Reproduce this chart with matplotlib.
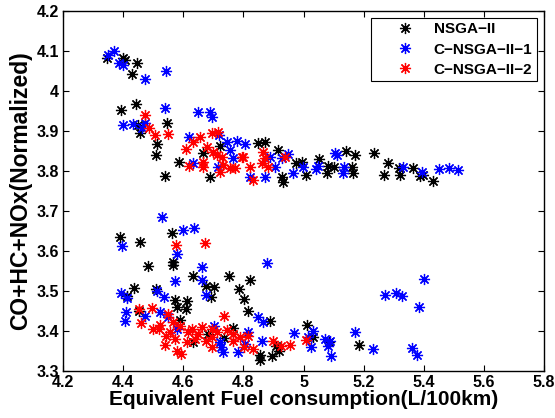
import numpy as np
import matplotlib
matplotlib.use('Agg')
import matplotlib.pyplot as plt
from matplotlib.ticker import FormatStrFormatter, MultipleLocator

plt.rcParams['font.family'] = ['Liberation Sans', 'DejaVu Sans']
plt.rcParams['font.weight'] = 'bold'

# NSGA-II
nsga_x = [4.347, 4.399, 4.406, 4.445, 4.428, 4.392, 4.442, 4.451, 4.545, 4.456,
          4.512, 4.509, 4.539, 4.587, 4.665, 4.722, 4.689, 4.850, 4.872, 4.916,
          4.928, 4.931, 4.975, 4.994, 5.008, 5.053, 5.079, 5.083, 5.103, 5.142,
          5.171, 5.160, 5.164, 5.236, 5.282, 5.268, 5.321, 5.319, 5.365, 5.397,
          5.388, 5.432,
          4.388, 4.456, 4.561, 4.484, 4.565, 4.567, 4.631, 4.752, 4.823, 4.436,
          4.412, 4.509, 4.677, 4.702, 4.691, 4.786, 4.801, 4.572, 4.611, 4.578,
          4.609, 4.815, 4.889, 4.453, 4.589, 4.767, 5.011, 5.031, 5.084, 5.186,
          4.909, 4.920, 4.854, 4.854, 4.896, 4.633, 4.735, 4.683]
nsga_y = [4.082, 4.082, 4.077, 4.069, 4.042, 3.953, 3.968, 3.915, 3.919, 3.894,
          3.868, 3.840, 3.788, 3.823, 3.846, 3.863, 3.786, 3.869, 3.873, 3.853,
          3.786, 3.773, 3.819, 3.823, 3.790, 3.829, 3.794, 3.812, 3.809, 3.851,
          3.840, 3.809, 3.794, 3.844, 3.819, 3.790, 3.790, 3.807, 3.807, 3.790,
          3.787, 3.776,
          3.636, 3.623, 3.644, 3.562, 3.573, 3.566, 3.537, 3.537, 3.528, 3.507,
          3.488, 3.505, 3.513, 3.511, 3.484, 3.505, 3.480, 3.477, 3.476, 3.461,
          3.455, 3.451, 3.424, 3.451, 3.428, 3.408, 3.416, 3.384, 3.372, 3.366,
          3.363, 3.351, 3.341, 3.328, 3.338, 3.372, 3.383, 3.392]

# C-NSGA-II-1
c1_x = [4.351, 4.370, 4.387, 4.401, 4.474, 4.543, 4.538, 4.650, 4.689, 4.695,
        4.401, 4.434, 4.473, 4.462, 4.619, 4.720, 4.634, 4.745, 4.778, 4.805,
        4.756, 4.767, 4.717, 4.822, 4.872, 4.889, 4.905, 4.928, 4.950, 4.964,
        4.999, 5.042, 5.049, 5.105, 5.113, 5.135, 5.133, 5.330, 5.393, 5.452,
        5.485, 5.513,
        4.528, 4.600, 4.636, 4.396, 4.578, 4.878, 4.661, 4.572, 4.664, 5.401,
        4.393, 4.412, 4.512, 4.536, 4.677, 5.272, 5.309, 5.327, 5.385, 4.410,
        4.407, 4.473, 4.523, 4.550, 4.580, 4.702, 4.849, 4.865, 4.815, 4.863,
        4.970, 5.033, 5.014, 5.025, 5.070, 5.081, 5.089, 5.092, 5.171, 5.232,
        5.360, 5.379, 4.727, 4.733, 4.782, 4.722, 4.804]
c1_y = [4.090, 4.101, 4.069, 4.065, 4.030, 4.051, 3.957, 3.947, 3.948, 3.936,
        3.915, 3.918, 3.919, 3.907, 3.886, 3.890, 3.821, 3.873, 3.876, 3.867,
        3.853, 3.832, 3.809, 3.786, 3.784, 3.836, 3.811, 3.832, 3.842, 3.794,
        3.811, 3.804, 3.812, 3.846, 3.840, 3.811, 3.794, 3.811, 3.798, 3.804,
        3.807, 3.802,
        3.686, 3.652, 3.657, 3.613, 3.592, 3.569, 3.561, 3.524, 3.527, 3.530,
        3.494, 3.482, 3.501, 3.484, 3.491, 3.490, 3.494, 3.487, 3.459, 3.448,
        3.426, 3.438, 3.447, 3.434, 3.405, 3.413, 3.434, 3.422, 3.397, 3.376,
        3.394, 3.401, 3.384, 3.361, 3.380, 3.363, 3.376, 3.337, 3.398, 3.355,
        3.358, 3.341, 3.359, 3.347, 3.347, 3.372, 3.368]

# C-NSGA-II-2
c2_x = [4.473, 4.487, 4.506, 4.550, 4.656, 4.695, 4.717, 4.631, 4.609, 4.620,
        4.667, 4.667, 4.680, 4.700, 4.711, 4.728, 4.794, 4.733, 4.756, 4.772,
        4.722, 4.822, 4.833, 4.798, 4.861, 4.872, 4.883, 4.866, 4.939,
        4.576, 4.672, 4.735, 4.454, 4.495, 4.460, 4.501, 4.523, 4.550, 4.518,
        4.543, 4.539, 4.573, 4.578, 4.594, 4.611, 4.567, 4.589, 4.628, 4.661,
        4.650, 4.677, 4.694, 4.711, 4.744, 4.767, 4.788, 4.815, 4.767, 4.801,
        4.832, 4.898, 4.926, 4.954, 5.009, 4.694, 4.639, 4.556, 4.617, 4.694]
c2_y = [3.940, 3.907, 3.890, 3.893, 3.886, 3.894, 3.897, 3.873, 3.854, 3.812,
        3.823, 3.811, 3.861, 3.848, 3.840, 3.834, 3.834, 3.815, 3.807, 3.807,
        3.798, 3.811, 3.778, 3.836, 3.819, 3.832, 3.811, 3.848, 3.836,
        3.615, 3.620, 3.438, 3.455, 3.457, 3.419, 3.405, 3.416, 3.442, 3.405,
        3.388, 3.366, 3.380, 3.351, 3.343, 3.372, 3.422, 3.413, 3.405, 3.409,
        3.392, 3.376, 3.405, 3.397, 3.402, 3.392, 3.384, 3.388, 3.376, 3.359,
        3.355, 3.376, 3.363, 3.366, 3.377, 3.359, 3.380, 3.397, 3.397, 3.384]

labels = ['NSGA\u2212II', 'C\u2212NSGA\u2212II\u22121', 'C\u2212NSGA\u2212II\u22122']

fig = plt.figure(figsize=(5.55, 4.18), dpi=100)
ax = fig.add_axes([0.1135, 0.1124, 0.8667, 0.8613])

star = (8, 2, 0)
ax.plot(nsga_x, nsga_y, linestyle='none', marker=star, color='k', markersize=8, mew=0.9, label=labels[0])
ax.plot(c1_x, c1_y, linestyle='none', marker=star, color='b', markersize=8, mew=0.9, label=labels[1])
ax.plot(c2_x, c2_y, linestyle='none', marker=star, color='r', markersize=8, mew=0.9, label=labels[2])

ax.set_xlim(4.2, 5.8)
ax.set_ylim(3.3, 4.2)
ax.xaxis.set_major_locator(MultipleLocator(0.2))
ax.yaxis.set_major_locator(MultipleLocator(0.1))
ax.xaxis.set_major_formatter(FormatStrFormatter('%g'))
ax.yaxis.set_major_formatter(FormatStrFormatter('%g'))
ax.tick_params(direction='in', length=4, width=0.8, top=True, right=True,
               labelsize=11.5, pad=3)
for lbl in ax.get_xticklabels() + ax.get_yticklabels():
    lbl.set_fontweight('bold')
for s in ax.spines.values():
    s.set_linewidth(1.0)

ax.set_xlabel('Equivalent Fuel consumption(L/100km)', fontsize=15, fontweight='bold', labelpad=0)
ax.set_ylabel('CO+HC+NOx(Normalized)', fontsize=16.5, fontweight='bold', labelpad=3)

leg = ax.legend(loc='upper right', bbox_to_anchor=(0.985, 0.981), borderaxespad=0,
                fancybox=False, edgecolor='k', framealpha=1,
                borderpad=0.3, handlelength=3.8, handletextpad=0.0, labelspacing=0.4,
                prop={'weight': 'bold', 'size': 11})
leg.get_frame().set_linewidth(0.8)

fig.savefig('out.png', dpi=100)
